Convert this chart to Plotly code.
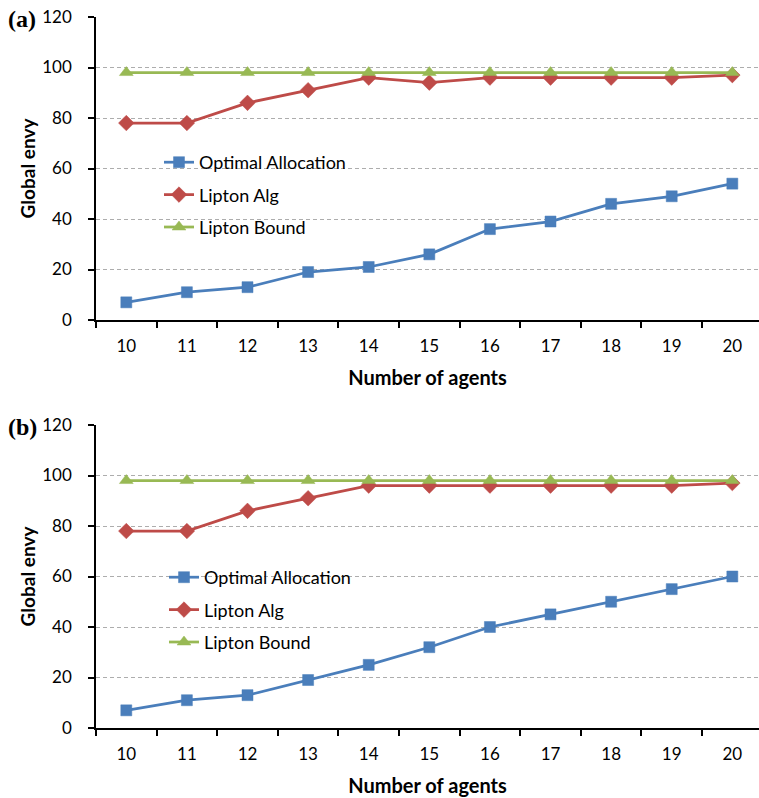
import plotly.graph_objects as go

agents = ["10", "11", "12", "13", "14", "15", "16", "17", "18", "19", "20"]

a_optimal = [7, 11, 13, 19, 21, 26, 36, 39, 46, 49, 54]
a_lipton_alg = [78, 78, 86, 91, 96, 94, 96, 96, 96, 96, 97]
a_lipton_bound = [98, 98, 98, 98, 98, 98, 98, 98, 98, 98, 98]

b_optimal = [7, 11, 13, 19, 25, 32, 40, 45, 50, 55, 60]
b_lipton_alg = [78, 78, 86, 91, 96, 96, 96, 96, 96, 96, 97]
b_lipton_bound = [98, 98, 98, 98, 98, 98, 98, 98, 98, 98, 98]

y_ticks = [0, 20, 40, 60, 80, 100, 120]

BLUE = "#4A7EBB"
RED = "#BE4B48"
GREEN = "#98B954"
FONT = "Lato"
W, H = 759, 798

fig = go.Figure()

series = [
    ("Optimal Allocation", BLUE, "square", 11),
    ("Lipton Alg", RED, "diamond", 12),
    ("Lipton Bound", GREEN, "triangle-up", 12),
]

panels = [
    ("x", "y", "legend", [a_optimal, a_lipton_alg, a_lipton_bound]),
    ("x2", "y2", "legend2", [b_optimal, b_lipton_alg, b_lipton_bound]),
]

for xa, ya, lg, data in panels:
    for (name, color, sym, size), vals in zip(series, data):
        fig.add_trace(go.Scatter(
            x=agents, y=vals, name=name, mode="lines+markers",
            xaxis=xa, yaxis=ya, legend=lg, legendgroup=lg + name,
            line=dict(color=color, width=2.75),
            marker=dict(symbol=sym, size=size, color=color,
                        line=dict(width=0.5, color=color)),
        ))

x_left = 96 / W
x_right = 1.0

def ydom(top_px, bot_px):
    return [1 - bot_px / H, 1 - top_px / H]

xaxis_common = dict(
    type="category", range=[-0.5, 10.44], showgrid=False,
    showline=True, linecolor="black", linewidth=1.5,
    ticks="outside", ticklen=6, tickcolor="black", tickwidth=1.5,
    tickson="boundaries", ticklabelstandoff=10,
    tickfont=dict(family=FONT, size=17, color="black"),
    title=dict(text="<b>Number of agents</b>", font=dict(family=FONT, size=20, color="black"), standoff=16),
    zeroline=False, fixedrange=True, automargin=False,
)
yaxis_common = dict(
    range=[0, 120], tickvals=y_ticks, showgrid=True,
    gridcolor="#ADADAD", gridwidth=1, griddash="4px,3px",
    showline=True, linecolor="black", linewidth=1.5,
    ticks="outside", ticklen=6, tickcolor="black", tickwidth=1.5,
    ticklabelstandoff=13,
    tickfont=dict(family=FONT, size=17, color="black"),
    title=dict(text="<b>Global envy</b>", font=dict(family=FONT, size=19, color="black"), standoff=2),
    zeroline=False, fixedrange=True, automargin=False,
)

legend_common = dict(
    font=dict(family=FONT, size=18, color="black"),
    bgcolor="rgba(0,0,0,0)", tracegroupgap=6,
    xanchor="left", yanchor="top", itemclick=False,
)

fig.update_layout(
    width=W, height=H, margin=dict(l=0, r=0, t=0, b=0),
    paper_bgcolor="white", plot_bgcolor="white",
    xaxis=dict(domain=[x_left, x_right], anchor="y", **xaxis_common),
    yaxis=dict(domain=ydom(17, 320), anchor="x", **yaxis_common),
    xaxis2=dict(domain=[x_left, x_right], anchor="y2", **xaxis_common),
    yaxis2=dict(domain=ydom(425, 728), anchor="x2", **yaxis_common),
    legend=dict(x=159 / W, y=1 - 144 / H, **legend_common),
    legend2=dict(x=164 / W, y=1 - 559 / H, **legend_common),
    annotations=[
        dict(text="<b>(a)</b>", x=6 / W, y=1 - 4 / H, xref="paper", yref="paper",
             xanchor="left", yanchor="top", showarrow=False,
             font=dict(family="Liberation Serif", size=24, color="black")),
        dict(text="<b>(b)</b>", x=6 / W, y=1 - 412 / H, xref="paper", yref="paper",
             xanchor="left", yanchor="top", showarrow=False,
             font=dict(family="Liberation Serif", size=24, color="black")),
    ],
    showlegend=True,
)

fig.write_html(
    "out.html",
    config={"displayModeBar": False},
    post_script="document.body.style.margin='0';document.body.style.overflow='hidden';",
)
